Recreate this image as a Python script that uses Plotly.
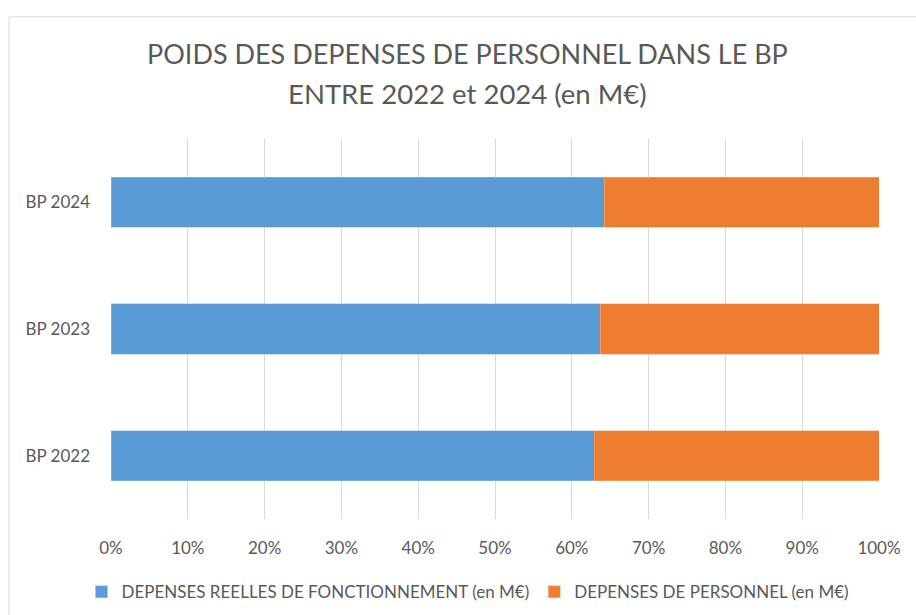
import plotly.graph_objects as go

categories = ["BP 2022", "BP 2023", "BP 2024"]
series_names = ["DEPENSES REELLES DE FONCTIONNEMENT (en M€)", "DEPENSES DE PERSONNEL (en M€)"]
fonctionnement_pct = [62.9, 63.7, 64.2]
personnel_pct = [37.1, 36.3, 35.8]
tick_vals = [0, 10, 20, 30, 40, 50, 60, 70, 80, 90, 100]
tick_text = ["0%", "10%", "20%", "30%", "40%", "50%", "60%", "70%", "80%", "90%", "100%"]

FONT = "Lato, 'Open Sans', sans-serif"
GRAY = "#595959"

fig = go.Figure()
fig.add_trace(go.Bar(y=categories, x=fonctionnement_pct, orientation="h", name=series_names[0],
                     marker=dict(color="#5B9BD5", line=dict(color="#9DC3E6", width=0.5))))
fig.add_trace(go.Bar(y=categories, x=personnel_pct, orientation="h", name=series_names[1],
                     marker=dict(color="#ED7D31", line=dict(color="#F4B183", width=0.5))))

W, H = 916, 615
L, R, T, B = 111, 37, 138.5, 95.5
pw, ph = W - L - R, H - T - B

def px(x):
    return (x - L) / pw

def py(y):
    return (H - B - y) / ph

fig.update_layout(
    width=W, height=H,
    margin=dict(l=L, r=R, t=T, b=B, autoexpand=False),
    paper_bgcolor="white", plot_bgcolor="white",
    barmode="stack", bargap=0.605,
    font=dict(family=FONT, color=GRAY, size=17),
    showlegend=True,
    legend=dict(orientation="h", x=px(468), xanchor="center", y=py(593), yanchor="middle",
                font=dict(size=17, color=GRAY), itemwidth=30, tracegroupgap=0,
                traceorder="normal", bgcolor="rgba(0,0,0,0)"),
    xaxis=dict(range=[0, 100], tickvals=tick_vals, ticktext=tick_text, showgrid=True,
               gridcolor="#D9D9D9", gridwidth=1, zeroline=False, showline=False,
               ticks="", ticklabelstandoff=17, tickfont=dict(size=17, color=GRAY), fixedrange=True),
    yaxis=dict(showgrid=False, zeroline=False, showline=False, ticks="",
               ticklabelstandoff=20, tickfont=dict(size=17, color=GRAY),
               categoryorder="array", categoryarray=categories, fixedrange=True),
    annotations=[
        dict(text="POIDS DES DEPENSES DE PERSONNEL DANS LE BP", xref="paper", yref="paper",
             x=px(467.5), y=py(53), xanchor="center", yanchor="middle", showarrow=False,
             font=dict(size=27, color=GRAY, family=FONT)),
        dict(text="ENTRE 2022 et 2024 (en M€)", xref="paper", yref="paper",
             x=px(467.5), y=py(93), xanchor="center", yanchor="middle", showarrow=False,
             font=dict(size=27.5, color=GRAY, family=FONT)),
    ],
    shapes=[
        dict(type="rect", xref="paper", yref="paper", x0=px(9), x1=px(960), y0=py(16), y1=py(640),
             line=dict(color="#D9D9D9", width=1), fillcolor="rgba(0,0,0,0)", layer="below"),
    ],
)

fig.write_html("out.html", config={"displayModeBar": False},
               post_script="document.body.style.margin='0';")
